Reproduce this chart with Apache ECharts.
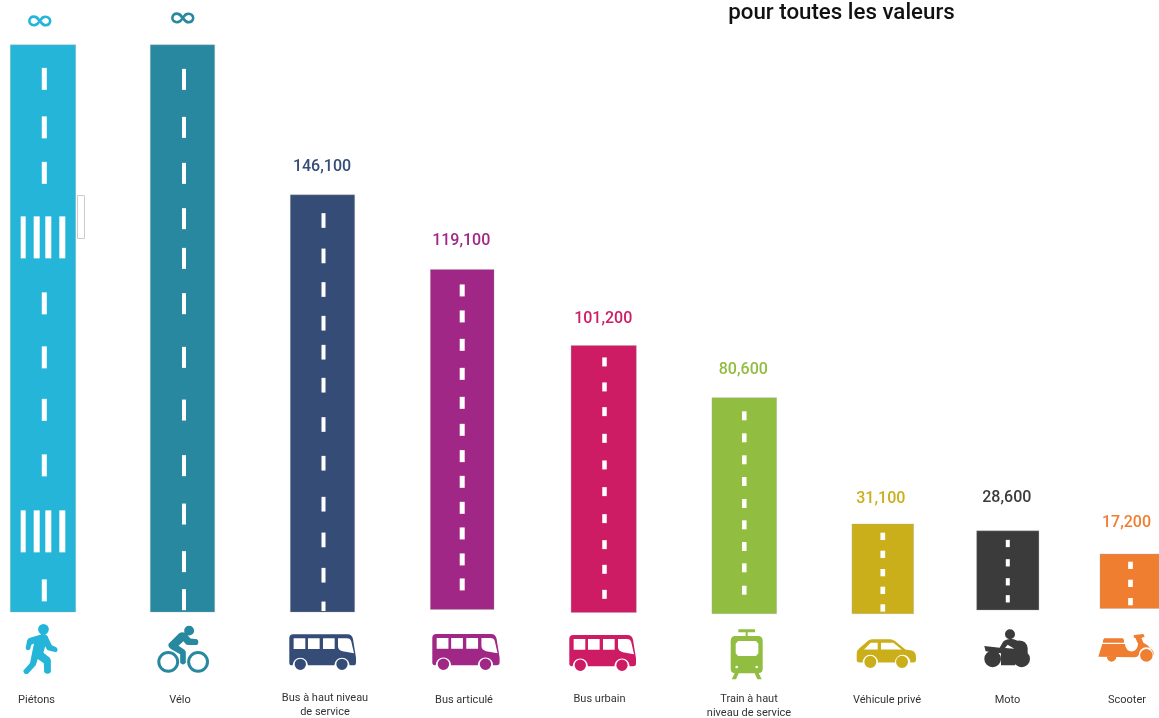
<!DOCTYPE html>
<html>
<head>
<meta charset="utf-8">
<title>pour toutes les valeurs</title>
<script src="https://cdn.jsdelivr.net/npm/echarts@6/dist/echarts.min.js"></script>
<style>
  html, body { margin: 0; padding: 0; background: #fff; }
  #chart { width: 1159px; height: 718px; }
</style>
</head>
<body>
<div id="chart"></div>
<script>
// data
const categories = ['Piétons', 'Vélo', 'Bus à haut niveau\nde service', 'Bus articulé', 'Bus urbain', 'Train à haut\nniveau de service', 'Véhicule privé', 'Moto', 'Scooter']
const valueLabels = ['∞', '∞', '146,100', '119,100', '101,200', '80,600', '31,100', '28,600', '17,200']
const barTops = [198500, 198500, 146000, 119900, 93300, 75000, 30800, 28400, 20300]
const barBases = [0, 0, 0, 900, -200, -600, -600, 700, 1200]
const colors = ['#25b5d9', '#27889f', '#344c76', '#a12786', '#cd1c63', '#91bd40', '#cbaf1a', '#3b3b3b', '#ef7e31']

// layout only, in px, relative to the axis position of each bar
const barNudge = [0, -0.5, -0.5, -0.8, 0.7, 1.3, -0.2, -15.2, -33.5]
const barWidths = [65.4, 64.4, 64.4, 63.7, 65.3, 64.7, 61.7, 62.3, 59]
const labelOffset = [[-3, -24], [0.5, -26.5], [-0.5, -27.5], [-1, -28.5], [-0.5, -26], [-1, -27.5], [-2, -25.5], [-1, -32.5], [-3, -31.5]]
const nameOffset = [[-6.5, 88], [-2.5, 88], [2.5, 93.5], [1.8, 88], [-4.2, 87], [4.7, 94.5], [4.2, 88.5], [-0.3, 88.5], [-2.5, 88.5]]
const iconBoxes = [[-19.7, 12, 34.3, 50], [-25.2, 13.7, 51.7, 47], [-33.2, 22.3, 66.7, 35.7], [-29.9, 22, 67.3, 36], [-34.4, 23, 66.7, 36], [-13.6, 17.3, 32, 50], [-26.1, 27.3, 59.3, 28.7], [-23.5, 17.3, 45.7, 38], [-31.2, 22, 55.7, 27.7]]

// road markings, offsets from the top of each bar
const laneDashes = [
  { dx: 1.3, w: 5, len: 22, at: [23, 71.5, 117, 247.5, 301.5, 354, 409.5, 534.5] },
  { dx: 1.5, w: 4, len: 21, at: [24, 72, 118, 163.3, 203, 248.3, 302, 354.7, 410.3, 458.7, 506.3, 544.3] },
  { dx: 1, w: 4, len: 14.7, at: [18.3, 53.7, 87.3, 121, 150, 183, 222.3, 261, 302, 337.7, 373, 406.7] },
  { dx: 0, w: 5, len: 12, at: [15, 41, 69.4, 98.4, 127.4, 154.4, 180.7, 206.4, 232.4, 258, 284, 309] },
  { dx: 0.8, w: 4.5, len: 9, at: [12, 37, 61.7, 88.4, 115, 141.7, 168.7, 194.7, 219.4, 244.4] },
  { dx: 0, w: 4.5, len: 9, at: [13.6, 35.6, 57.6, 79.3, 101.3, 122.6, 144.3, 165.6, 188] },
  { dx: 0, w: 4.7, len: 7.3, at: [8.7, 26.7, 45, 62.7, 80.3] },
  { dx: 0, w: 4, len: 7.3, at: [9, 28.3, 47.3, 64.3] },
  { dx: 1, w: 4.7, len: 7.3, at: [7.7, 25.7, 44] }
]
// zebra crossings on the first bar only
const zebraTops = [171.5, 465.5]
const zebraLines = [[-22.3, 5], [-9.3, 6], [2.3, 6], [16.3, 6]]

// icons: one path each, holes run the other way round
function circle(cx, cy, r, hole) {
  const s = hole ? 0 : 1
  return `M${cx - r} ${cy}A${r} ${r} 0 1 ${s} ${cx + r} ${cy}A${r} ${r} 0 1 ${s} ${cx - r} ${cy}Z`
}
function hole(x, y, x2, y2) {
  return `M${x} ${y}L${x} ${y2}L${x2} ${y2}L${x2} ${y}Z`
}
const busPath = 'M12 0L175 0Q188 0 191 14L200 70L200 85Q200 93 192 93L181 93A23 23 0 0 0 135 93L56 93A23 23 0 0 0 10 93L8 93Q0 93 0 85L0 12Q0 0 12 0Z' +
  hole(13, 12, 48, 44) + hole(56, 12, 91, 44) + hole(101, 12, 136, 44) +
  'M146 12L146 36Q146 48 160 51L194 57L186 22Q184 12 172 12Z' +
  circle(33, 90, 17) + circle(158, 90, 17)
const iconPaths = [
  circle(130, 178, 16) + 'M90 203L128 192Q142 193 145 205L155 225L168 231Q176 238 168 246L148 242Q140 240 138 234L135 228L130 248L148 262Q152 266 152 272L152 305Q142 316 132 305L131 279L113 266L107 285L84 310Q72 314 70 301L90 278L98 238L102 220L94 224L90 238Q80 244 77 234L81 212Q83 205 90 203Z',
  circle(568, 182, 15) + 'M506 222L538 190Q550 183 560 192L572 206L592 208Q600 216 592 226L565 226Q558 226 555 220L551 214L536 228L554 240Q558 243 558 248L558 280Q550 290 541 280L541 254L513 238Q503 230 506 222Z' +
    circle(505, 277, 33) + circle(505, 277, 24, true) + circle(595, 277, 33) + circle(595, 277, 24, true),
  busPath,
  busPath,
  busPath,
  'M23 0L73 0L73 9L23 9ZM45 9L51 9L51 22L45 22ZM14 20L82 20Q96 20 96 36L96 118Q96 130 84 132L12 132Q0 130 0 118L0 36Q0 20 14 20Z' +
    'M22 35L15 43L15 72L22 80L76 80L83 72L83 43L76 35Z' + circle(18, 113, 4, true) + circle(78, 113, 4, true) +
    'M12 132L24 132L16 150L3 150ZM72 132L84 132L93 150L80 150Z',
  'M0 44Q0 34 8 28L34 6Q40 2 50 2L100 2Q108 2 116 8L146 32L165 35Q178 38 178 55L178 62Q178 70 170 70L161 70A22 22 0 0 0 115 70L64 70A22 22 0 0 0 18 70L8 70Q0 70 0 62Z' +
    'M63 12L42 12L22 32L63 32ZM110 12L73 12L73 32L135 32Z' + circle(41, 68, 18) + circle(136, 68, 18),
  circle(77, 15, 15) + circle(25, 89, 25) + circle(112, 89, 25) +
    'M0 50L46 55L56 38Q62 30 78 28L88 30L100 34Q126 32 130 56L130 72L100 78L92 108L50 108L50 72L4 66Z' + 'M90 58L70 46L62 56Z',
  'M18 13L72 13Q78 13 78 26L14 26Q12 18 18 13Z' +
    'M0 68L12 30L80 30Q84 54 104 52Q118 48 120 30L112 12L106 10L108 3L136 0L140 8L130 12L136 26Q158 36 167 62L168 63A23 23 0 0 0 122 63Q118 70 110 70Z' +
    circle(40, 69, 14) + circle(145, 64, 19)
]

function renderBar(params, api) {
  const i = params.dataIndex
  const zero = api.coord([i, 0])
  const x = zero[0] + barNudge[i]
  const top = api.coord([i, api.value(1)])[1]
  const base = api.coord([i, api.value(2)])[1]
  const w = barWidths[i]
  const children = [{
    type: 'rect',
    shape: { x: x - w / 2, y: top, width: w, height: base - top },
    style: { fill: colors[i], stroke: 'rgba(170,170,170,0.55)', lineWidth: 0.6 }
  }]
  const lane = laneDashes[i]
  lane.at.forEach(function (d) {
    children.push({
      type: 'rect',
      shape: { x: x + lane.dx - lane.w / 2, y: top + d, width: lane.w, height: Math.min(lane.len, base - top - d - 1) },
      style: { fill: '#fff' }
    })
  })
  if (i === 0) {
    zebraTops.forEach(function (d) {
      zebraLines.forEach(function (z) {
        children.push({
          type: 'rect',
          shape: { x: x + z[0], y: top + d, width: z[1], height: 42 },
          style: { fill: '#fff' }
        })
      })
    })
  }
  // the infinity sign is flatter than the font draws it
  const isInfinite = valueLabels[i] === '∞'
  children.push({
    type: 'text',
    x: x + labelOffset[i][0],
    y: top + labelOffset[i][1] + (isInfinite ? 1 : 0),
    scaleY: isInfinite ? 0.75 : 1,
    style: {
      x: 0,
      y: 0,
      text: valueLabels[i],
      fill: colors[i],
      align: 'center',
      verticalAlign: 'middle',
      font: isInfinite ? 'bold 36px "DejaVu Sans"' : '500 16px Roboto'
    }
  })
  const box = iconBoxes[i]
  children.push({
    type: 'path',
    shape: { pathData: iconPaths[i], layout: 'cover', x: x + box[0], y: zero[1] + box[1], width: box[2], height: box[3] },
    style: { fill: colors[i] }
  })
  children.push({
    type: 'text',
    style: {
      x: x + nameOffset[i][0],
      y: zero[1] + nameOffset[i][1],
      text: categories[i],
      fill: '#333',
      align: 'center',
      verticalAlign: 'middle',
      lineHeight: 14,
      font: '11px Roboto'
    }
  })
  return { type: 'group', children: children }
}

const chart = echarts.init(document.getElementById('chart'))
chart.setOption({
  animation: false,
  backgroundColor: '#fff',
  title: {
    text: 'pour toutes les valeurs',
    left: 836.5,
    top: -3,
    textAlign: 'center',
    textStyle: { color: '#111', fontFamily: 'Roboto', fontWeight: 500, fontSize: 22.3 }
  },
  grid: { left: 43, right: -4, top: 40, bottom: 98, outerBoundsMode: 'none' },
  xAxis: { type: 'category', data: categories, boundaryGap: false, show: false },
  yAxis: { type: 'value', min: -2800, max: 200200, show: false },
  graphic: [{
    type: 'rect',
    shape: { x: 77.5, y: 195.5, width: 7, height: 43 },
    style: { fill: '#fff', stroke: '#ccc', lineWidth: 1 }
  }],
  series: [{
    type: 'custom',
    clip: false,
    renderItem: renderBar,
    data: categories.map(function (name, i) { return [i, barTops[i], barBases[i]] })
  }]
})
</script>
</body>
</html>
